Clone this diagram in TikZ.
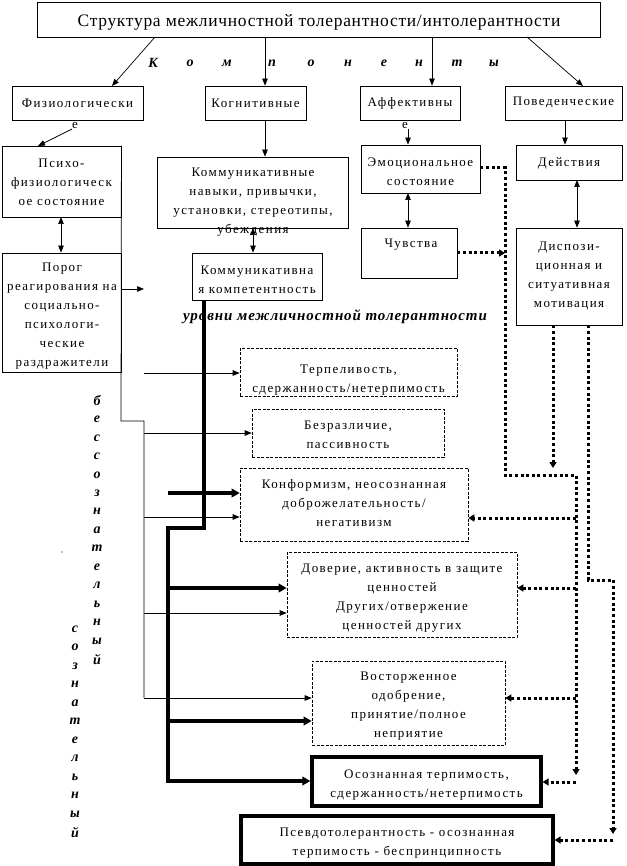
\documentclass[tikz,border=0pt]{standalone}
\usepackage{fontspec}
\setmainfont{Liberation Serif}
\newfontfamily\spaced[LetterSpace=11]{Liberation Serif}
\newfontfamily\titlefont[LetterSpace=4]{Liberation Serif}
\newfontfamily\labfont[LetterSpace=6]{Liberation Serif}
\usetikzlibrary{arrows.meta,fit}
\tikzset{
  box/.style={draw, line width=0.8pt, inner sep=0pt},
  dbox/.style={box, line width=0.6pt, dash pattern=on 3pt off 1.5pt},
  tbox/.style={box, line width=3.2pt},
  txt/.style={inner sep=0pt, align=center, font=\spaced\fontsize{13}{19}\selectfont},
  lett/.style={inner sep=0pt, font=\labfont\bfseries\itshape\fontsize{14}{14}\selectfont},
  vlett/.style={inner sep=0pt, font=\bfseries\itshape\fontsize{14}{14}\selectfont},
  thinl/.style={line width=0.7pt},
  tarr/.style={thinl, -{Triangle[length=7pt,width=5.5pt]}},
  darr/.style={thinl, {Triangle[length=7pt,width=5.5pt]}-{Triangle[length=7pt,width=5.5pt]}},
  thickl/.style={line width=3.8pt, line join=miter},
  thickarr/.style={thickl, -{Triangle[length=8pt,width=8.5pt]}},
  dots/.style={line width=3pt, dash pattern=on 3pt off 2.6pt},
  dotarr/.style={dots, -{Triangle[length=6pt,width=7pt]}},
}
\begin{document}
\begin{tikzpicture}[x=1pt,y=-1pt]
\useasboundingbox (0,0) rectangle (626,866);
\fill[white] (0,0) rectangle (626,866);

% title
\node[box, fit={(37,2) (600,37)}] (title) {};
\node[txt, font=\titlefont\fontsize{17.5}{20}\selectfont] (titlet) at (319,22)
  {Структура межличностной толерантности/интолерантности};

% components word
\foreach \ch/\xx [count=\i] in {К/153,о/190,м/227,п/272,о/311,н/348,е/384,н/419,т/457,ы/494}
  \node[lett] (k\i) at (\xx,63) {\ch};

% component boxes
\node[box, fit={(12,86) (143,120)}] (phys) {};
\node[txt] (physt) at (77.5,103) {Физиологически};
\node[txt] (physe) at (75,126) {е};
\node[box, fit={(205,86) (306,120)}] (cog) {};
\node[txt] (cogt) at (255.5,103) {Когнитивные};
\node[box, fit={(360,86) (460,120)}] (aff) {};
\node[txt] (afft) at (410,103) {Аффективны};
\node[txt] (affe) at (405,126) {е};
\node[box, fit={(505,86) (622,120)}] (beh) {};
\node[txt] (beht) at (563.5,103) {Поведенческие};

% title arrows
\coordinate (ta) at (155,37); \coordinate (pa) at (112,86);
\coordinate (tb) at (265,37); \coordinate (tc) at (432,37);
\coordinate (td) at (527,37); \coordinate (pd) at (583,86);
\draw[tarr] (ta) -- (pa);
\draw[tarr] (tb) -- (tb |- cog.north);
\draw[tarr] (tc) -- (tc |- aff.north);
\draw[tarr] (td) -- (pd);

% physiological column
\node[box, fit={(2,146) (121,217)}] (psy) {};
\node[txt] (psyt) at (61.5,182) {Психо-\\физиологическ\\ое состояние};
\node[box, fit={(2,253) (121,372)}] (porog) {};
\node[txt] (porogt) at (62,316) {Порог\\реагирования на\\социально-\\психологи-\\ческие\\раздражители};
\coordinate (pe) at (72,129); \coordinate (pp) at (38,146);
\draw[tarr] (pe) -- (pp);
\coordinate (pv) at (61,217);
\draw[darr] (pv) -- (pv |- porog.north);

% cognitive column
\node[box, fit={(157,157) (348,228)}] (skills) {};
\node[txt] (skillst) at (253,202) {Коммуникативные\\навыки, привычки,\\установки, стереотипы,\\убеждения};
\node[box, fit={(192,253) (322,300)}] (comp) {};
\node[txt] (compt) at (257,279.5) {Коммуникативна\\я компетентность};
\coordinate (cv) at (265,120);
\draw[tarr] (cv) -- (cv |- skills.north);
\coordinate (sv) at (253,228);
\draw[darr] (sv) -- (sv |- comp.north);

% affective column
\node[box, fit={(361,145) (480,193)}] (emo) {};
\node[txt] (emot) at (420.5,172) {Эмоциональное\\состояние};
\node[box, fit={(361,228) (457,278)}] (feel) {};
\node[txt] (feelt) at (411,245) {Чувства};
\coordinate (ev) at (408,129);
\draw[tarr] (ev) -- (ev |- emo.north);
\coordinate (fv) at (408,193);
\draw[darr] (fv) -- (fv |- feel.north);

% behavioural column
\node[box, fit={(516,145) (622,180)}] (act) {};
\node[txt] (actt) at (569,163) {Действия};
\node[box, fit={(516,228) (622,325)}] (disp) {};
\node[txt] (dispt) at (569,276) {Диспози-\\ционная и\\ситуативная\\мотивация};
\coordinate (bv) at (565,120);
\draw[tarr] (bv) -- (bv |- act.north);
\coordinate (av) at (577,180);
\draw[darr] (av) -- (av |- disp.north);

% levels label
\node[lett, font=\labfont\bfseries\itshape\fontsize{15}{15}\selectfont] (levels) at (335,317) {уровни межличностной толерантности};

% level boxes
\node[dbox, fit={(240,348) (457,396)}] (pat) {};
\node[txt] (patt) at (348.5,380.5) {Терпеливость,\\сдержанность/нетерпимость};
\node[dbox, fit={(252,409) (444,457)}] (ind) {};
\node[txt] (indt) at (348,435) {Безразличие,\\пассивность};
\node[dbox, fit={(240,468) (468,541)}] (conf) {};
\node[txt] (conft) at (354,503) {Конформизм, неосознанная\\доброжелательность/\\негативизм};
\node[dbox, fit={(287,552) (517,637)}] (trust) {};
\node[txt] (trustt) at (402,598) {Доверие, активность в защите\\ценностей\\Других/отвержение\\ценностей других};
\node[dbox, fit={(312,661) (505,745)}] (ent) {};
\node[txt] (entt) at (408.5,706.5) {Восторженное\\одобрение,\\принятие/полное\\неприятие};
\node[tbox, fit={(312,757) (541,806)}] (osoz) {};
\node[txt] (osozt) at (426.5,785) {Осознанная терпимость,\\сдержанность/нетерпимость};
\node[tbox, fit={(241,816) (553,864)}] (pseudo) {};
\node[txt] (pseudot) at (397,843) {Псевдотолерантность - осознанная\\терпимость - беспринципность};

% thin connectors from the left boxes
\coordinate (pr) at (121,289);
\draw[tarr] (pr) -- (144,289);
\coordinate (j1) at (121,421); \coordinate (j2) at (144,421); \coordinate (j3) at (144,698);
\draw[thinl] (psy.north east) -- (j1) -- (j2) -- (j3);
\draw[tarr] (j3) -- (ent.west |- j3);
\coordinate (b0) at (144,373); \coordinate (b1) at (144,433);
\coordinate (b2) at (144,517); \coordinate (b3) at (144,613);
\draw[tarr] (b0) -- (pat.west |- b0);
\draw[tarr] (b1) -- (ind.west |- b1);
\draw[tarr] (b2) -- (conf.west |- b2);
\draw[tarr] (b3) -- (trust.west |- b3);

% thick connectors from competence
\coordinate (c1) at (204,528); \coordinate (c2) at (168,528); \coordinate (c3) at (168,781);
\draw[thickarr] (comp.south -| c1) -- (c1) -- (c2) -- (c3) -- (osoz.west |- c3);
\coordinate (c4) at (168,588); \coordinate (c5) at (168,721); \coordinate (c6) at (168,493);
\draw[thickarr] (c4) -- (trust.west |- c4);
\draw[thickarr] (c5) -- (ent.west |- c5);
\draw[thickarr] (c6) -- (conf.west |- c6);

% dotted connectors
\coordinate (d1) at (505,168); \coordinate (d2) at (505,475);
\coordinate (d3) at (576,475); \coordinate (d4) at (576,775);
\draw[dotarr] (emo.east |- d1) -- (d1) -- (d2) -- (d3) -- (d4);
\coordinate (f1) at (505,253);
\draw[dotarr] (feel.east |- f1) -- (f1);
\coordinate (e1) at (576,518); \coordinate (e2) at (576,588);
\coordinate (e3) at (576,698); \coordinate (e4) at (576,782);
\draw[dotarr] (e1) -- (conf.east |- e1);
\draw[dotarr] (e2) -- (trust.east |- e2);
\draw[dotarr] (e3) -- (ent.east |- e3);
\draw[dotarr] (e4) -- (osoz.east |- e4);
\coordinate (g1) at (553,468);
\draw[dotarr] (disp.south -| g1) -- (g1);
\coordinate (h1) at (588,580); \coordinate (h2) at (613,580);
\coordinate (h3) at (613,834); \coordinate (h4) at (613,840);
\draw[dotarr] (disp.south -| h1) -- (h1) -- (h2) -- (h3);
\draw[dotarr] (h4) -- (pseudo.east |- h4);

% vertical words
\foreach \ch [count=\i] in {б,е,с,с,о,з,н,а,т,е,л,ь,н,ы,й}
  \node[vlett] (u\i) at (97,{401+18.45*(\i-1)}) {\ch};
\foreach \ch [count=\i] in {с,о,з,н,а,т,е,л,ь,н,ы,й}
  \node[vlett] (s\i) at (75,{629+18.5*(\i-1)}) {\ch};
\fill (62,552) circle (0.6pt);
\end{tikzpicture}
\end{document}
